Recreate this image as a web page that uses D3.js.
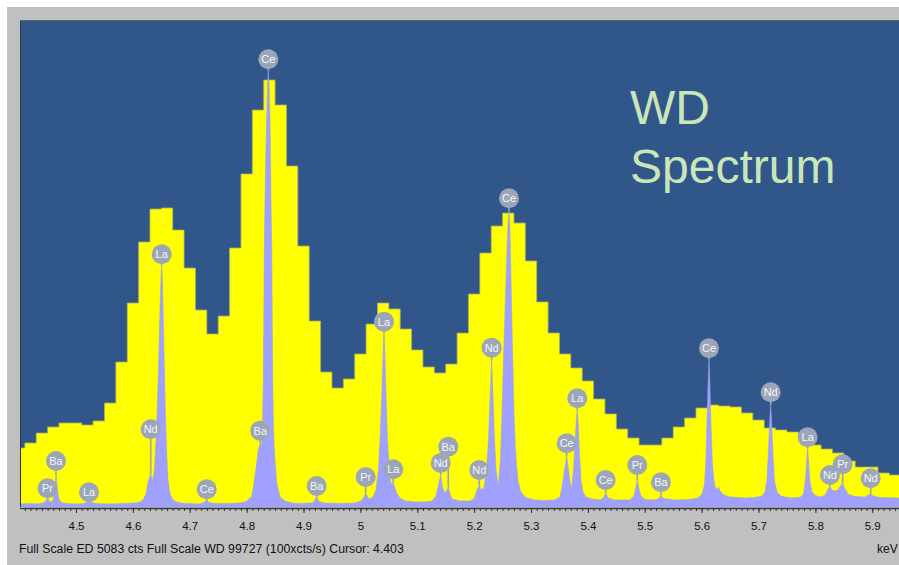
<!DOCTYPE html>
<html>
<head>
<meta charset="utf-8">
<script src="https://cdn.jsdelivr.net/npm/d3@7"></script>
<style>
  body { margin: 0; background: #fff; }
  svg { display: block; font-family: "Liberation Sans", Arial, sans-serif; }
</style>
</head>
<body>
<script>
// ED histogram: 20 eV bins, first bin centred on 4.40 keV (counts, full scale 5083)
const edStart = 4.39;
const edWidth = 0.02;
const edCounts = [
  616, 668, 772, 835, 877, 877, 856, 898, 1085, 1513,
  2129, 2766, 3110, 3121, 2891, 2494, 2056, 1806, 1993, 2703,
  3476, 4143, 4457, 4196, 3559, 2724, 1941, 1409, 1242, 1336,
  1597, 1910, 2129, 2067, 1858, 1639, 1461, 1399, 1492, 1816,
  2223, 2651, 2933, 3068, 2964, 2568, 2140, 1816, 1597, 1451,
  1315, 1127, 971, 814, 720, 647, 647, 720, 835, 929,
  1033, 1065, 1054, 1044, 981, 908, 825, 804, 783, 731,
  647, 605, 564, 480, 417, 417, 355, 334
];

// WD trace [keV, counts] (full scale 99727)
const wdTrace = [
  [4.4015, 614], [4.4191, 717], [4.4332, 614], [4.4420, 819], [4.4473, 1229], [4.4499, 2048],
  [4.4525, 1229], [4.4560, 922], [4.4596, 1434], [4.4622, 3072], [4.4648, 6554], [4.4675, 3482],
  [4.4701, 1638], [4.4736, 922], [4.4824, 717], [4.4982, 614], [4.5141, 717], [4.5193, 1024],
  [4.5229, 1434], [4.5264, 1024], [4.5334, 717], [4.5598, 614], [4.5861, 717], [4.6037, 819],
  [4.6125, 1024], [4.6178, 1434], [4.6231, 2662], [4.6266, 5120], [4.6313, 6758], [4.6345, 5325],
  [4.6380, 7578], [4.6415, 15770], [4.6450, 28058], [4.6477, 40346], [4.6494, 46490], [4.6507, 49562],
  [4.6521, 45466], [4.6538, 36250], [4.6565, 21914], [4.6591, 11674], [4.6617, 5530], [4.6653, 2662],
  [4.6705, 1434], [4.6793, 922], [4.6916, 717], [4.7180, 614], [4.7250, 922], [4.7298, 1434],
  [4.7338, 922], [4.7444, 717], [4.7707, 717], [4.7883, 819], [4.7989, 1126], [4.8059, 1843],
  [4.8089, 2048], [4.8129, 4915], [4.8173, 8602], [4.8205, 11674], [4.8240, 13107], [4.8261, 12288],
  [4.8279, 15770], [4.8293, 25395], [4.8311, 52634], [4.8332, 69018], [4.8353, 79872], [4.8368, 86426],
  [4.8381, 89150], [4.8395, 86426], [4.8411, 79258], [4.8428, 62874], [4.8441, 52634], [4.8458, 25395],
  [4.8472, 15770], [4.8486, 11674], [4.8529, 4915], [4.8587, 2048], [4.8674, 1229], [4.8798, 819],
  [4.8938, 717], [4.9149, 819], [4.9193, 1229], [4.9232, 2048], [4.9272, 1126], [4.9360, 819],
  [4.9641, 717], [4.9905, 819], [5.0011, 1229], [5.0055, 1843], [5.0093, 2867], [5.0125, 2048],
  [5.0160, 1638], [5.0222, 2048], [5.0274, 3482], [5.0318, 7578], [5.0353, 15770], [5.0380, 23962],
  [5.0401, 32154], [5.0415, 35635], [5.0429, 32154], [5.0450, 22938], [5.0476, 13722], [5.0512, 7168],
  [5.0538, 4710], [5.0578, 4915], [5.0608, 3891], [5.0643, 2662], [5.0696, 1843], [5.0784, 1229],
  [5.0960, 1024], [5.1136, 1024], [5.1259, 1229], [5.1329, 2253], [5.1373, 4506], [5.1412, 6554],
  [5.1443, 4096], [5.1479, 2867], [5.1514, 3277], [5.1545, 4096], [5.1575, 2662], [5.1610, 1638],
  [5.1751, 1229], [5.1927, 1229], [5.1997, 1638], [5.2050, 3482], [5.2090, 4506], [5.2120, 3482],
  [5.2173, 3891], [5.2217, 7578], [5.2252, 13722], [5.2279, 21914], [5.2308, 30106], [5.2331, 22938],
  [5.2358, 13722], [5.2384, 7578], [5.2424, 4096], [5.2463, 9626], [5.2490, 19251], [5.2516, 30106],
  [5.2542, 39731], [5.2569, 49562], [5.2595, 57754], [5.2613, 60478], [5.2630, 56730], [5.2648, 46490],
  [5.2660, 39731], [5.2683, 28058], [5.2700, 19251], [5.2727, 11674], [5.2748, 8192], [5.2771, 5530],
  [5.2806, 3482], [5.2859, 2458], [5.2929, 1843], [5.3070, 1434], [5.3245, 1331], [5.3421, 1434],
  [5.3509, 2048], [5.3553, 4506], [5.3588, 7578], [5.3627, 10301], [5.3659, 7578], [5.3685, 5120],
  [5.3715, 3891], [5.3747, 7578], [5.3773, 12698], [5.3796, 17818], [5.3813, 19866], [5.3831, 16794],
  [5.3852, 10650], [5.3878, 5530], [5.3914, 3072], [5.3966, 2048], [5.4072, 1638], [5.4212, 1434],
  [5.4274, 1843], [5.4313, 2867], [5.4353, 1843], [5.4476, 1434], [5.4740, 1434], [5.4810, 2253],
  [5.4840, 3891], [5.4868, 5530], [5.4898, 3686], [5.4933, 2253], [5.5004, 1536], [5.5179, 1434],
  [5.5250, 1741], [5.5285, 2458], [5.5320, 1741], [5.5531, 1434], [5.5795, 1536], [5.5935, 1843],
  [5.6006, 2662], [5.6050, 4506], [5.6076, 9626], [5.6094, 17818], [5.6115, 26010], [5.6129, 30106],
  [5.6143, 26010], [5.6164, 16794], [5.6190, 8602], [5.6225, 4506], [5.6269, 3482], [5.6296, 4096],
  [5.6322, 3277], [5.6392, 2458], [5.6498, 2048], [5.6762, 1843], [5.6937, 1946], [5.7061, 2253],
  [5.7113, 3072], [5.7149, 5530], [5.7175, 11674], [5.7198, 17818], [5.7214, 20890], [5.7229, 17818],
  [5.7254, 10650], [5.7280, 5530], [5.7324, 3072], [5.7395, 2253], [5.7553, 1843], [5.7729, 1946],
  [5.7790, 2662], [5.7825, 5530], [5.7848, 9626], [5.7864, 12083], [5.7880, 9216], [5.7904, 5120],
  [5.7940, 3072], [5.8010, 2253], [5.8115, 2048], [5.8186, 2662], [5.8221, 3686], [5.8256, 4157],
  [5.8291, 3482], [5.8344, 3277], [5.8397, 3482], [5.8441, 4301], [5.8479, 4854], [5.8520, 3686],
  [5.8573, 2662], [5.8696, 2150], [5.8871, 2048], [5.8933, 2458], [5.8972, 2867], [5.9012, 2253],
  [5.9135, 1946], [5.9469, 1843]
];

// peak markers: element, energy (keV), marker height (WD counts)
const markerNames = ["Pr", "Ba", "La", "Nd", "La", "Ce", "Ba", "Ce", "Ba", "Pr",
  "La", "La", "Ba", "Nd", "Nd", "Nd", "Ce", "Ce", "La", "Ce",
  "Pr", "Ba", "Ce", "Nd", "La", "Nd", "Pr", "Nd"];
const markerKeV = [4.4499, 4.4648, 4.5229, 4.6313, 4.6507, 4.7298, 4.8240, 4.8381, 4.9232, 5.0093,
  5.0415, 5.0578, 5.1545, 5.1412, 5.2090, 5.2308, 5.2613, 5.3627, 5.3813, 5.4313,
  5.4868, 5.5285, 5.6129, 5.7214, 5.7864, 5.8256, 5.8479, 5.8972];
const markerCts = [3830, 9421, 3011, 15913, 51753, 3625, 15626, 91689, 4301, 6144,
  37949, 7721, 12349, 9011, 7578, 32624, 63222, 13046, 22262, 5530,
  8602, 5059, 32502, 23490, 14275, 6554, 8745, 5878];

const majorTicks = [4.5, 4.6, 4.7, 4.8, 4.9, 5.0, 5.1, 5.2, 5.3, 5.4, 5.5, 5.6, 5.7, 5.8, 5.9];
const tickLabels = ["4.5", "4.6", "4.7", "4.8", "4.9", "5", "5.1", "5.2", "5.3", "5.4", "5.5", "5.6", "5.7", "5.8", "5.9"];

const edFullScale = 5083;
const wdFullScale = 99727;
const footer = "Full Scale ED 5083 cts Full Scale WD 99727 (100xcts/s) Cursor: 4.403";

const W = 899, H = 565;
const plot = { left: 20, top: 20, right: 899, bottom: 507 };

const svg = d3.select("body").append("svg")
    .attr("width", W)
    .attr("height", H);

svg.append("rect")
    .attr("x", 7).attr("y", 7)
    .attr("width", W - 7).attr("height", H - 7)
    .attr("fill", "#c0c0c0");

const x = d3.scaleLinear().domain([4.4015, 5.947]).range([plot.left, plot.right]);
const yED = d3.scaleLinear().domain([0, edFullScale]).range([plot.bottom, plot.top]);
const yWD = d3.scaleLinear().domain([0, wdFullScale]).range([plot.bottom, plot.top]);

svg.append("clipPath").attr("id", "clip")
  .append("rect")
    .attr("x", plot.left).attr("y", plot.top)
    .attr("width", plot.right - plot.left).attr("height", plot.bottom - plot.top);

svg.append("rect")
    .attr("x", plot.left).attr("y", plot.top)
    .attr("width", plot.right - plot.left).attr("height", plot.bottom - plot.top)
    .attr("fill", "#31568a");

const g = svg.append("g").attr("clip-path", "url(#clip)");

// ED histogram as steps
const edSteps = edCounts.flatMap((c, i) => [
  [edStart + i * edWidth, c],
  [edStart + (i + 1) * edWidth, c]
]);

g.append("path")
    .datum(edSteps)
    .attr("fill", "#ffff00")
    .attr("stroke", "#a8ab6a")
    .attr("stroke-width", 0.8)
    .attr("d", d3.area()
        .x(d => x(d[0]))
        .y0(plot.bottom + 2)
        .y1(d => yED(d[1])));

// WD trace
g.append("path")
    .datum(wdTrace)
    .attr("fill", "#a0a0ff")
    .attr("stroke", "#9c9ef0")
    .attr("stroke-width", 0.6)
    .attr("d", d3.area()
        .x(d => x(d[0]))
        .y0(plot.bottom + 2)
        .y1(d => yWD(d[1])));

// markers
const bis = d3.bisector(d => d[0]).left;
const wdAt = k => {
  const i = Math.max(1, Math.min(wdTrace.length - 1, bis(wdTrace, k)));
  const a = wdTrace[i - 1], b = wdTrace[i];
  return a[1] + (b[1] - a[1]) * (k - a[0]) / (b[0] - a[0]);
};

const markers = markerNames.map((name, i) => ({ name, keV: markerKeV[i], cts: markerCts[i] }));

const mk = g.append("g").selectAll("g")
  .data(markers)
  .join("g")
    .attr("transform", d => `translate(${x(d.keV)},${yWD(d.cts)})`);

mk.append("line")
    .attr("x1", 0).attr("x2", 0)
    .attr("y1", 0)
    .attr("y2", d => yWD(wdAt(d.keV)) - yWD(d.cts))
    .attr("stroke", "#9aa4b6")
    .attr("stroke-width", 1.6);

mk.append("circle")
    .attr("r", 10)
    .attr("fill", "#9ca6b8");

mk.append("text")
    .attr("text-anchor", "middle")
    .attr("dy", "0.36em")
    .attr("fill", "#f4f6fa")
    .style("font-size", "11px")
    .text(d => d.name);

// title
const title = svg.append("text")
    .attr("x", 630)
    .attr("fill", "#c9e6b9")
    .style("font-size", "48px");
title.append("tspan").attr("x", 630).attr("y", 124).text("WD");
title.append("tspan").attr("x", 630).attr("y", 183).text("Spectrum");

// plot border
svg.append("line")
    .attr("x1", plot.left + 0.5).attr("x2", plot.left + 0.5)
    .attr("y1", plot.top).attr("y2", plot.bottom)
    .attr("stroke", "#2e3440").attr("stroke-width", 1);
svg.append("line")
    .attr("x1", plot.left).attr("x2", plot.right)
    .attr("y1", plot.top + 0.5).attr("y2", plot.top + 0.5)
    .attr("stroke", "#5a6470").attr("stroke-width", 1);

// x axis
const axisY = plot.bottom + 1;
svg.append("line")
    .attr("x1", plot.left).attr("x2", plot.right)
    .attr("y1", axisY + 0.5).attr("y2", axisY + 0.5)
    .attr("stroke", "#3a3a3a").attr("stroke-width", 1.5);

const minorTicks = d3.range(441, 595).map(i => i / 100);

svg.append("g")
    .attr("transform", `translate(0,${axisY})`)
    .call(d3.axisBottom(x).tickValues(minorTicks).tickSize(3).tickFormat(""))
    .call(a => a.select(".domain").remove())
    .call(a => a.selectAll("line").attr("stroke", "#333"));

svg.append("g")
    .attr("transform", `translate(0,${axisY})`)
    .call(d3.axisBottom(x).tickValues(majorTicks).tickSize(5).tickPadding(8.5)
        .tickFormat((d, i) => tickLabels[i]))
    .call(a => a.select(".domain").remove())
    .call(a => a.selectAll("line").attr("stroke", "#333"))
    .call(a => a.selectAll("text")
        .attr("fill", "#111")
        .style("font-family", "'Liberation Sans', Arial, sans-serif")
        .style("font-size", "11.5px"));

svg.append("text")
    .attr("x", 19).attr("y", 553)
    .attr("fill", "#111")
    .style("font-size", "12.3px")
    .text(footer);

svg.append("text")
    .attr("x", 877).attr("y", 553)
    .attr("fill", "#111")
    .style("font-size", "12px")
    .text("keV");
</script>
</body>
</html>
